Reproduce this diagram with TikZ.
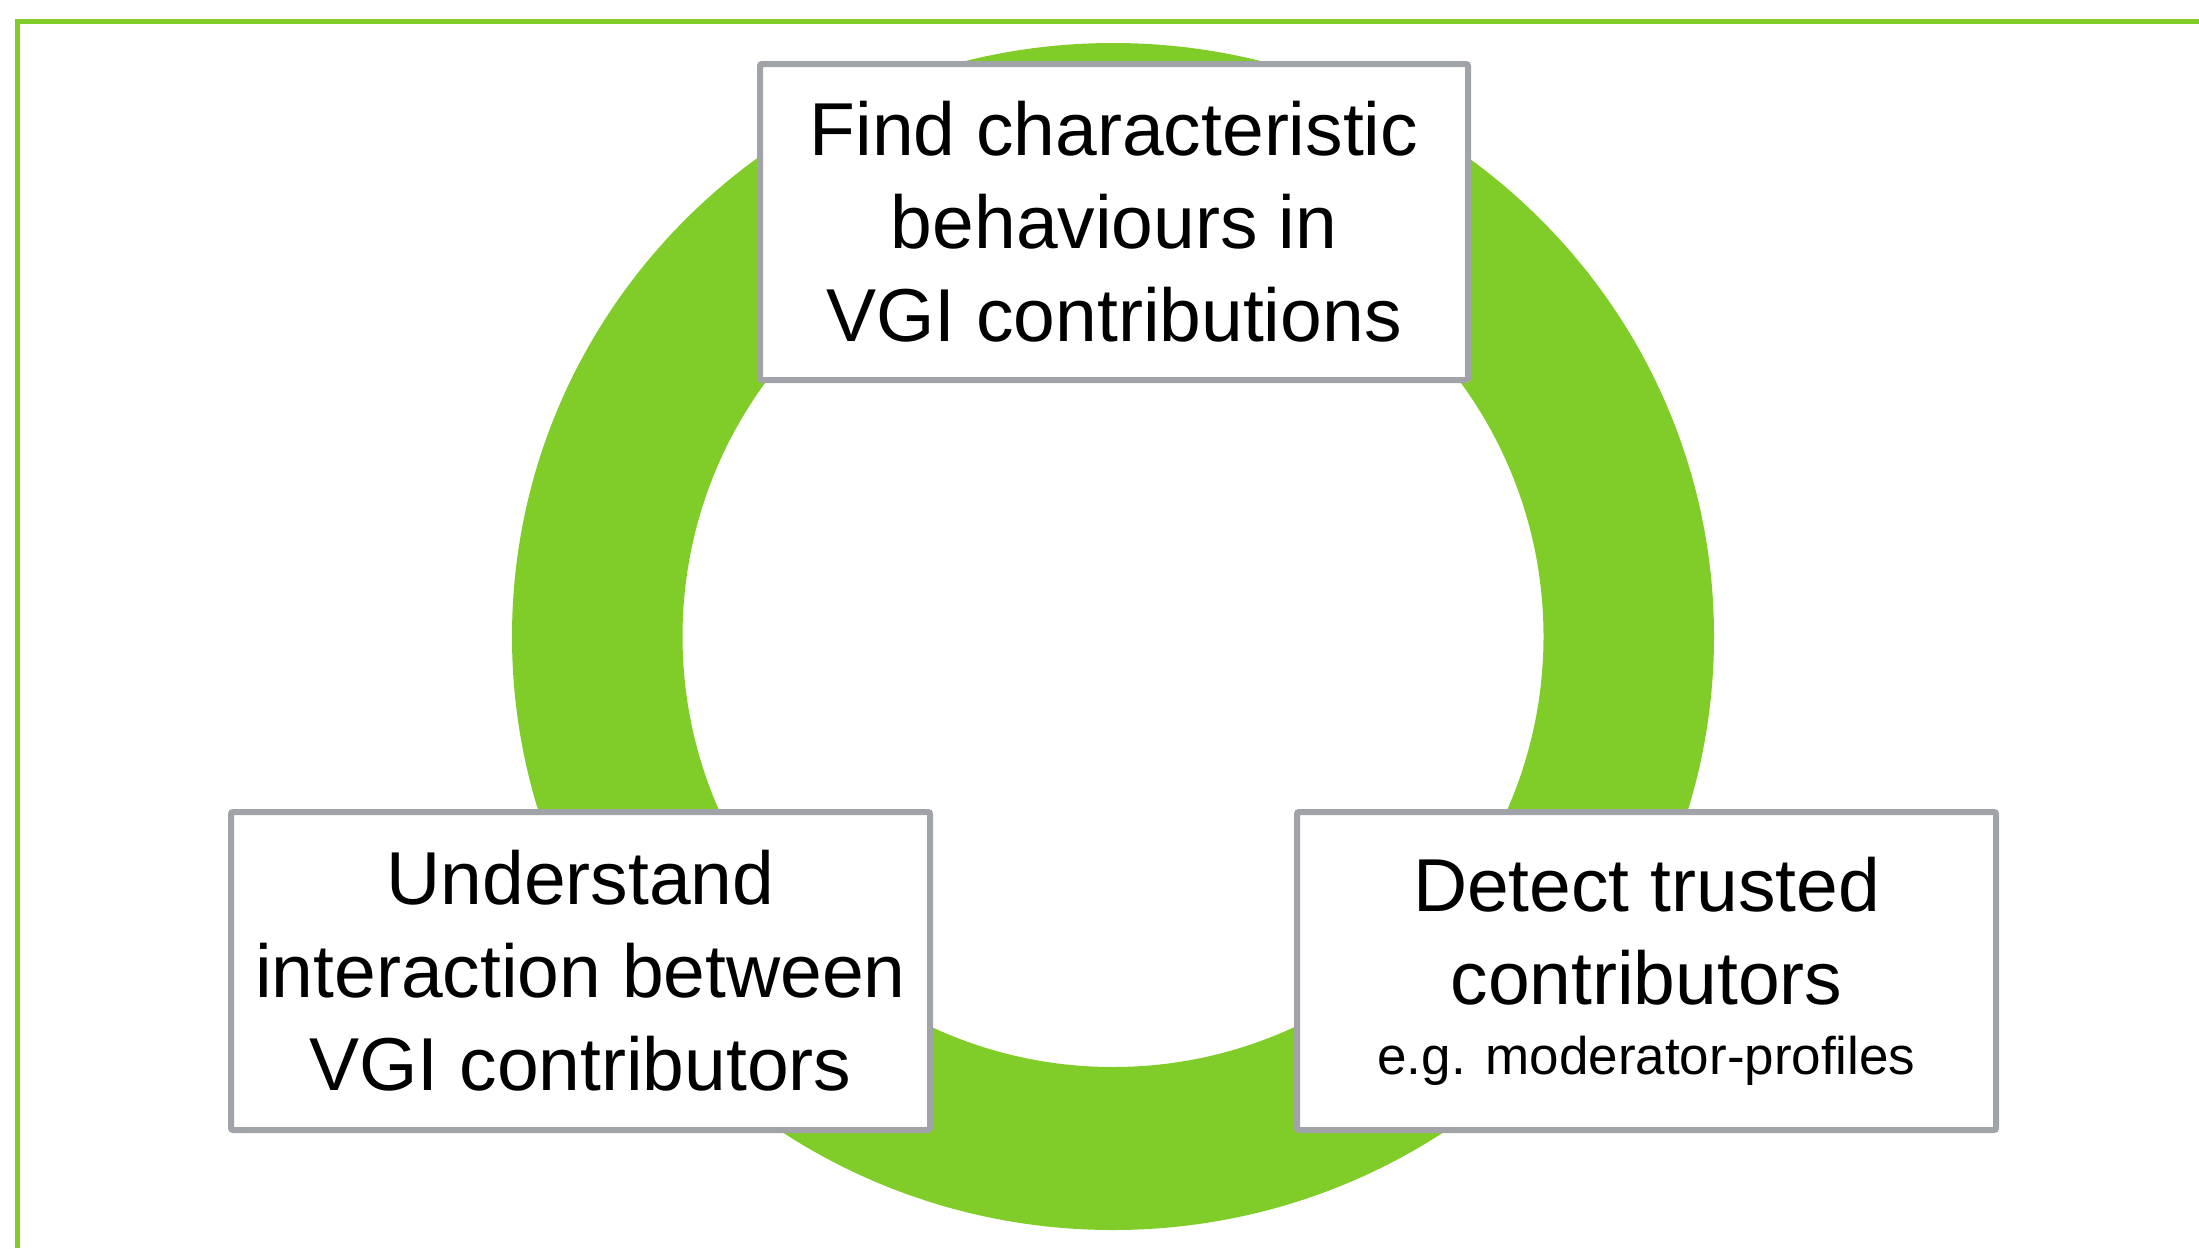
\documentclass[tikz,border=0pt]{standalone}
\usepackage{fontspec}
\setmainfont{Liberation Sans}
\definecolor{ringgreen}{RGB}{128,204,40}
\definecolor{boxgray}{RGB}{160,164,168}

\begin{document}
\begin{tikzpicture}[x=0.5pt, y=-0.5pt,
    goal/.style={rectangle, draw=boxgray, line width=3pt, fill=white, rounded corners=1pt,
      align=center, inner sep=0pt, minimum width=349.5pt, minimum height=159pt,
      font=\fontsize{37.5}{46.5}\selectfont}]
  \useasboundingbox (0,0) rectangle (2199,1248);
  \draw[ringgreen, line width=2.5pt] (17.3,1248) -- (17.3,21.5) -- (2199,21.5);
  \fill[ringgreen, even odd rule] (1113,636.5) ellipse [x radius=300.5pt, y radius=296.75pt]
    (1113,636.5) circle [radius=215.25pt];

  \node[goal, minimum width=354pt, minimum height=158pt] (find) at (1114,222)
    {Find characteristic\\behaviours in\\VGI contributions};
  \node[goal] (understand) at (580.5,971)
    {Understand\\interaction between\\VGI contributors};
  \node[goal] (detect) at (1646.5,971)
    {Detect trusted\\contributors\\[-11.5pt]{\fontsize{26.5}{32}\selectfont e.g. moderator-profiles}};
\end{tikzpicture}
\end{document}
